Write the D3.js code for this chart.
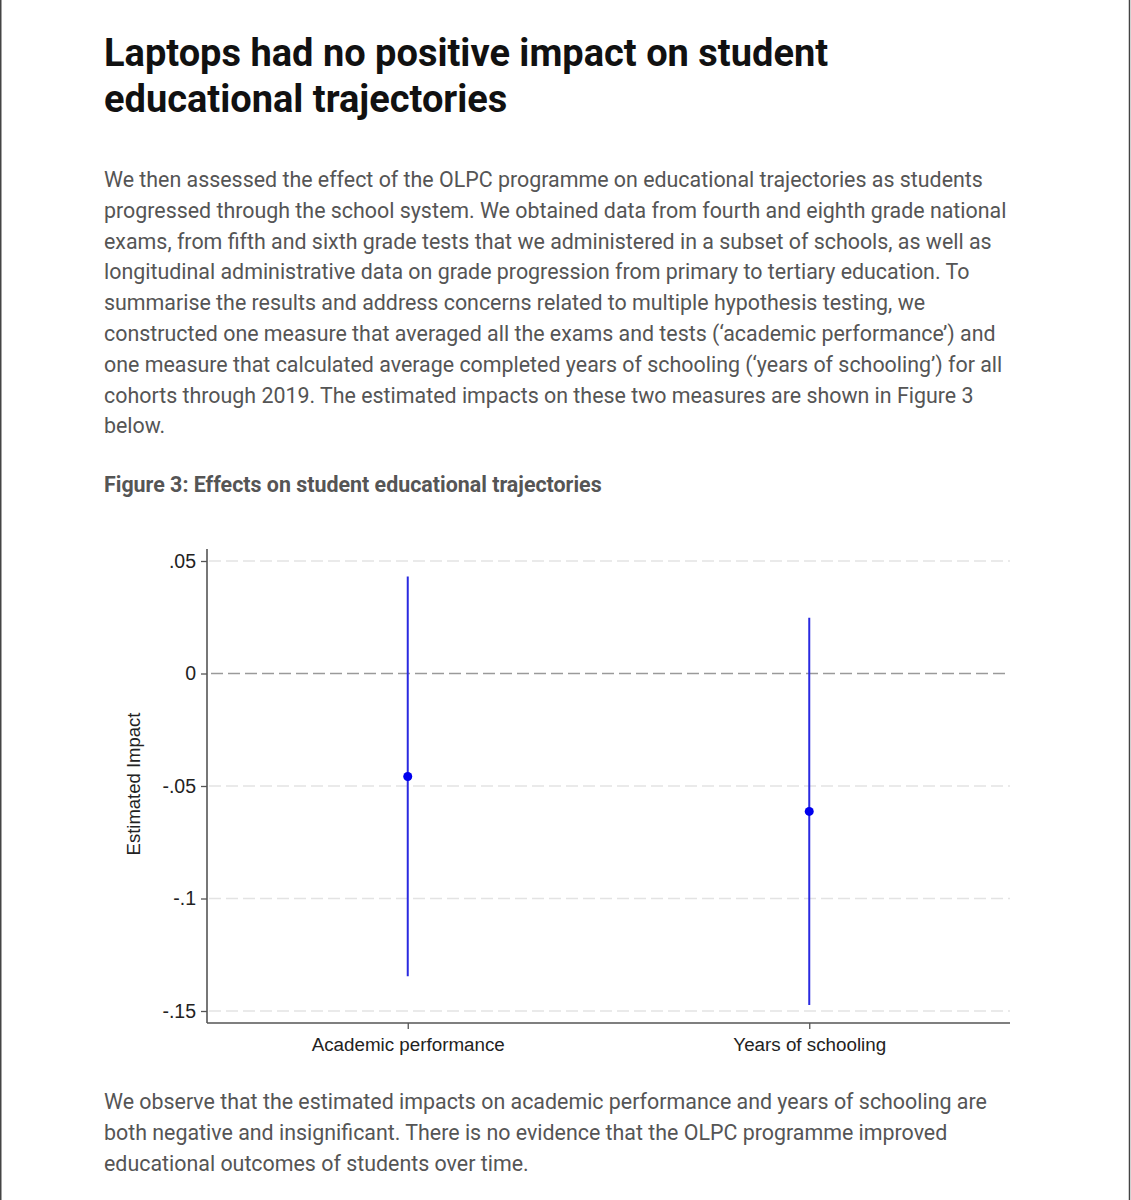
<!DOCTYPE html>
<html>
<head>
<meta charset="utf-8">
<script src="https://cdn.jsdelivr.net/npm/d3@7/dist/d3.min.js"></script>
<style>
  html, body { margin: 0; padding: 0; background: #fff; }
  svg { display: block; }
</style>
</head>
<body>
<svg id="page" width="1131" height="1200"></svg>
<script>
// ---- data ----
const categories = ["Academic performance", "Years of schooling"];
const estimates = [-0.0458, -0.0613];
const ciLower = [-0.1345, -0.1473];
const ciUpper = [0.0431, 0.0248];
const yTicks = [0.05, 0, -0.05, -0.1, -0.15];
const yTickLabels = [".05", "0", "-.05", "-.1", "-.15"];

const titleLines = ["Laptops had no positive impact on student", "educational trajectories"];
const introLines = [
  "We then assessed the effect of the OLPC programme on educational trajectories as students",
  "progressed through the school system. We obtained data from fourth and eighth grade national",
  "exams, from fifth and sixth grade tests that we administered in a subset of schools, as well as",
  "longitudinal administrative data on grade progression from primary to tertiary education. To",
  "summarise the results and address concerns related to multiple hypothesis testing, we",
  "constructed one measure that averaged all the exams and tests (\u2018academic performance\u2019) and",
  "one measure that calculated average completed years of schooling (\u2018years of schooling\u2019) for all",
  "cohorts through 2019. The estimated impacts on these two measures are shown in Figure 3",
  "below."
];
const figureCaption = "Figure 3: Effects on student educational trajectories";
const outroLines = [
  "We observe that the estimated impacts on academic performance and years of schooling are",
  "both negative and insignificant. There is no evidence that the OLPC programme improved",
  "educational outcomes of students over time."
];
const yAxisTitle = "Estimated Impact";

// ---- page ----
const svg = d3.select("#page");
svg.append("line").attr("x1", 0.75).attr("x2", 0.75).attr("y1", 0).attr("y2", 1200)
  .attr("stroke", "#444").attr("stroke-width", 1.5);
svg.append("line").attr("x1", 1129.5).attr("x2", 1129.5).attr("y1", 0).attr("y2", 1200)
  .attr("stroke", "#444").attr("stroke-width", 1.5);

const left = 104;
svg.append("g").selectAll("text").data(titleLines).join("text")
  .attr("x", left).attr("y", (d, i) => 66 + i * 46)
  .attr("font-family", "Roboto").attr("font-weight", 700).attr("font-size", 38)
  .attr("fill", "#111").text(d => d);

svg.append("g").selectAll("text").data(introLines).join("text")
  .attr("x", left).attr("y", (d, i) => 187 + i * 30.8)
  .attr("font-family", "Roboto").attr("font-size", 21.4)
  .attr("fill", "#555").text(d => d);

svg.append("text").attr("x", left).attr("y", 492)
  .attr("font-family", "Roboto").attr("font-weight", 700).attr("font-size", 21.4)
  .attr("fill", "#555").text(figureCaption);

svg.append("g").selectAll("text").data(outroLines).join("text")
  .attr("x", left).attr("y", (d, i) => 1109 + i * 30.8)
  .attr("font-family", "Roboto").attr("font-size", 21.4)
  .attr("fill", "#555").text(d => d);

// ---- chart ----
const plotLeft = 207, plotRight = 1010;
const y = d3.scaleLinear().domain([-0.15, 0.05]).range([1011, 561]);
const x = d3.scalePoint().domain(categories).range([plotLeft, plotRight]).padding(0.5);
const axisTop = y(0.05) - 12, axisBottom = y(-0.15) + 12;

const chart = svg.append("g");

// grid lines
chart.append("g").selectAll("line").data(yTicks.filter(t => t !== 0)).join("line")
  .attr("x1", plotLeft + 2).attr("x2", plotRight)
  .attr("y1", d => y(d)).attr("y2", d => y(d))
  .attr("stroke", "#e3e3e3").attr("stroke-width", 1.3)
  .attr("stroke-dasharray", "12,5");
// zero reference line
chart.append("line")
  .attr("x1", plotLeft + 4).attr("x2", plotRight)
  .attr("y1", y(0)).attr("y2", y(0))
  .attr("stroke", "#9a9a9a").attr("stroke-width", 1.6)
  .attr("stroke-dasharray", "12,5");

const labelFont = "Liberation Sans, Arial, sans-serif";

// y axis
const yAxis = d3.axisLeft(y).tickValues(yTicks)
  .tickFormat((d, i) => yTickLabels[i]).tickSize(6).tickPadding(5);
const gy = chart.append("g").attr("transform", `translate(${plotLeft},0)`).call(yAxis);
gy.select(".domain").remove();
gy.selectAll(".tick line").attr("stroke", "#555").attr("stroke-width", 1.3);
gy.selectAll(".tick text").attr("font-family", labelFont)
  .attr("font-size", 19.5).attr("fill", "#222");
chart.append("line").attr("x1", plotLeft).attr("x2", plotLeft)
  .attr("y1", axisTop).attr("y2", axisBottom)
  .attr("stroke", "#555").attr("stroke-width", 1.6);

// x axis
const xAxis = d3.axisBottom(x).tickSize(6).tickPadding(9);
const gx = chart.append("g").attr("transform", `translate(0,${axisBottom})`).call(xAxis);
gx.select(".domain").remove();
gx.selectAll(".tick line").attr("stroke", "#555").attr("stroke-width", 1.3);
gx.selectAll(".tick text").attr("font-family", labelFont)
  .attr("font-size", 18.8).attr("fill", "#222");
chart.append("line").attr("x1", plotLeft).attr("x2", plotRight)
  .attr("y1", axisBottom).attr("y2", axisBottom)
  .attr("stroke", "#555").attr("stroke-width", 1.6);

// y axis title
chart.append("text")
  .attr("transform", `translate(140,784) rotate(-90)`)
  .attr("text-anchor", "middle")
  .attr("font-family", labelFont).attr("font-size", 18.5)
  .attr("fill", "#222").text(yAxisTitle);

// confidence intervals
chart.append("g").selectAll("line").data(categories).join("line")
  .attr("x1", d => x(d)).attr("x2", d => x(d))
  .attr("y1", (d, i) => y(ciUpper[i])).attr("y2", (d, i) => y(ciLower[i]))
  .attr("stroke", "#2a2ae0").attr("stroke-width", 2);
// point estimates
chart.append("g").selectAll("circle").data(categories).join("circle")
  .attr("cx", d => x(d)).attr("cy", (d, i) => y(estimates[i]))
  .attr("r", 4.5).attr("fill", "#0000ee");
</script>
</body>
</html>
